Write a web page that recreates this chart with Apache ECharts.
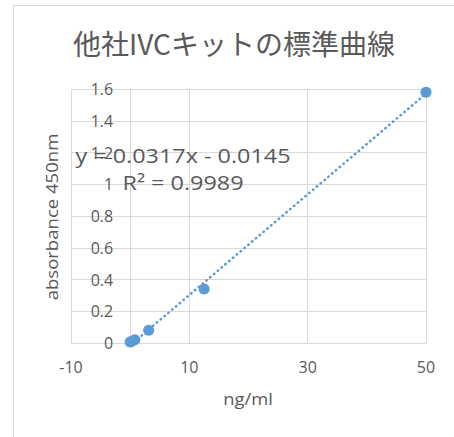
<!DOCTYPE html>
<html>
<head>
<meta charset="utf-8">
<script src="https://cdn.jsdelivr.net/npm/echarts@6/dist/echarts.min.js"></script>
<style>
html,body{margin:0;padding:0;background:#fff;}
#chart{width:454px;height:437px;}
</style>
</head>
<body>
<div id="chart"></div>
<script>
// ---- data ----
var concentrations = [0, 0.195, 0.78, 3.125, 12.5, 50];      // ng/ml
var absorbances    = [0.006, 0.01, 0.02, 0.08, 0.34, 1.58];  // absorbance 450nm
var trendX = [0, 50];
var trendY = [-0.0145, 1.5705];
var xTickLabels = ['-10', '10', '30', '50'];
var titleText = '他社IVCキットの標準曲線';
var equationText = 'y = 0.0317x - 0.0145';
var r2Text = 'R² = 0.9989';
var xName = 'ng/ml';
var yName = 'absorbance 450nm';

var points = concentrations.map(function (c, i) { return [c, absorbances[i]]; });
var trend = trendX.map(function (x, i) { return [x, trendY[i]]; });

var grey = '#595959';
var gridCol = '#d9d9d9';
var blue = '#5b9bd5';
var latin = '"Open Sans", "Noto Sans", sans-serif';

var W = 454, H = 437;
var gridLeft = 71, gridRight = 28, gridTop = 89, gridBottom = 94;
var xMin = -10, xMax = 50;
// shift of the vertical axis from the plot's left edge to x = 0
var yAxisShift = (0 - xMin) / (xMax - xMin) * (W - gridLeft - gridRight);

var chart = echarts.init(document.getElementById('chart'), null, {renderer: 'svg'});
chart.setOption({
  animation: false,
  backgroundColor: '#fff',
  grid: {left: gridLeft, right: gridRight, top: gridTop, bottom: gridBottom, containLabel: false},
  xAxis: [
    { // data axis
      type: 'value', min: xMin, max: xMax, position: 'top',
      axisLine: {show: false, onZero: false}, axisTick: {show: false},
      axisLabel: {show: false}, splitLine: {show: false}
    },
    { // tick / grid axis
      type: 'value', min: 0, max: 60, interval: 20, position: 'bottom',
      axisLine: {show: true, onZero: false, lineStyle: {color: gridCol, width: 1}},
      axisTick: {show: false},
      splitLine: {show: true, lineStyle: {color: gridCol, width: 1}},
      axisLabel: {
        color: grey, fontSize: 16, fontFamily: latin, margin: 16,
        formatter: function (v) { return xTickLabels[Math.round(v / 20)]; }
      }
    }
  ],
  yAxis: {
    type: 'value', min: 0, max: 1.6, interval: 0.2, position: 'left',
    offset: -yAxisShift,
    axisLine: {show: true, onZero: false, lineStyle: {color: gridCol, width: 1}},
    axisTick: {show: false},
    splitLine: {show: true, lineStyle: {color: gridCol, width: 1}},
    axisLabel: {color: grey, fontSize: 16, fontFamily: latin, margin: 17}
  },
  series: [
    {
      type: 'line', xAxisIndex: 0, data: trend, showSymbol: false, symbol: 'none',
      clip: true, z: 1,
      lineStyle: {color: blue, width: 2.5, type: [0.5, 4.5], cap: 'round'}
    },
    {
      type: 'scatter', xAxisIndex: 0, data: points, symbol: 'circle', symbolSize: 11,
      itemStyle: {color: blue, opacity: 1}, z: 3
    }
  ],
  graphic: [
    {type: 'rect', silent: true, z: -1, shape: {x: 13.5, y: 5.5, width: 600, height: 600},
     style: {fill: 'none', stroke: gridCol, lineWidth: 1}},
    {type: 'text', x: 234, y: 43, z: 10,
     style: {text: titleText, fill: grey, fontSize: 28, fontFamily: '"Noto Sans CJK JP", sans-serif',
             align: 'center', verticalAlign: 'middle'}},
    {type: 'text', x: 183, y: 155, scaleX: 1.17, z: 10,
     style: {text: equationText, fill: grey, fontSize: 20, fontFamily: latin, align: 'center', verticalAlign: 'middle'}},
    {type: 'text', x: 183, y: 182, scaleX: 1.17, z: 10,
     style: {text: r2Text, fill: grey, fontSize: 20, fontFamily: latin, align: 'center', verticalAlign: 'middle'}},
    {type: 'text', x: 248, y: 399, scaleX: 1.15, z: 10,
     style: {text: xName, fill: grey, fontSize: 16, fontFamily: latin, align: 'center', verticalAlign: 'middle'}},
    {type: 'text', x: 52, y: 217, rotation: Math.PI / 2, scaleX: 1.16, z: 10,
     style: {text: yName, fill: grey, fontSize: 16, fontFamily: latin, align: 'center', verticalAlign: 'middle'}}
  ]
});
</script>
</body>
</html>
